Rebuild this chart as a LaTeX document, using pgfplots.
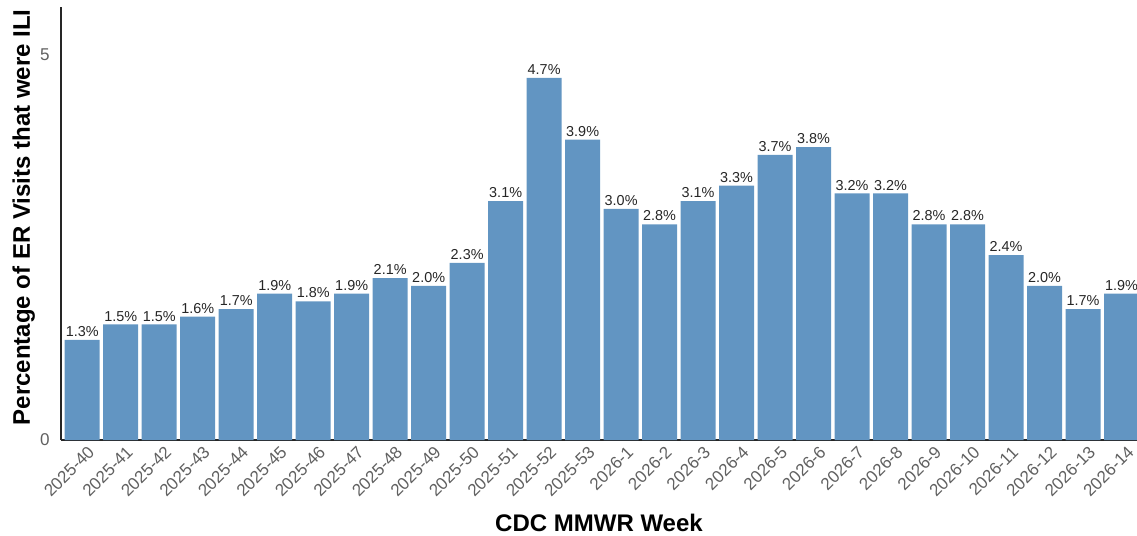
\documentclass[border=0pt]{standalone}
\usepackage{fontspec}
\setmainfont{Liberation Sans}
\usepackage{pgfplots}
\pgfplotsset{compat=1.18}
\definecolor{barblue}{HTML}{6295C2}
\definecolor{tickgray}{HTML}{606060}

\begin{document}
\begin{tikzpicture}
\begin{axis}[
    scale only axis,
    width=807pt, height=324.75pt,
    xmin=-0.55, xmax=27.4,
    ymin=0, ymax=5.62,
    axis x line*=bottom,
    axis y line*=left,
    axis line style={line width=0.9pt, black!85},
    major tick length=0pt,
    ytick={0,5},
    xtick=data,
    xticklabels={2025-40,2025-41,2025-42,2025-43,2025-44,2025-45,2025-46,2025-47,
        2025-48,2025-49,2025-50,2025-51,2025-52,2025-53,2026-1,2026-2,2026-3,
        2026-4,2026-5,2026-6,2026-7,2026-8,2026-9,2026-10,2026-11,2026-12,2026-13,2026-14},
    /pgf/number format/assume math mode=true,
    tick label style={font=\fontsize{12.8}{14}\selectfont, text=tickgray},
    yticklabel style={xshift=-5pt},
    xticklabel style={rotate=45, anchor=north east, inner sep=2pt, yshift=-3pt, xshift=2pt},
    xlabel={\bfseries CDC MMWR Week},
    ylabel={\bfseries Percentage of ER Visits that were ILI},
    label style={font=\fontsize{18}{20}\selectfont},
    ylabel style={at={(ticklabel cs:0.514)}},
    xlabel shift=5.5pt,
    ylabel shift=-3pt,
    ybar,
    bar width=0.91,
    nodes near coords={\pgfmathprintnumber[fixed,fixed zerofill,precision=1]{\pgfplotspointmeta}\%},
    nodes near coords style={font=\fontsize{10.8}{12}\selectfont, text=black!85, anchor=base, yshift=2.5pt, inner sep=0pt},
]
\addplot[fill=barblue, draw=none] coordinates {
    (0,1.3) (1,1.5) (2,1.5) (3,1.6) (4,1.7) (5,1.9) (6,1.8) (7,1.9)
    (8,2.1) (9,2.0) (10,2.3) (11,3.1) (12,4.7) (13,3.9) (14,3.0) (15,2.8)
    (16,3.1) (17,3.3) (18,3.7) (19,3.8) (20,3.2) (21,3.2) (22,2.8) (23,2.8)
    (24,2.4) (25,2.0) (26,1.7) (27,1.9)
};
\end{axis}
\pgfresetboundingbox
\path[use as bounding box] ([xshift=-45.75pt,yshift=-71.25pt]current axis.south west)
    rectangle ([yshift=5.25pt]current axis.north east);
\end{tikzpicture}
\end{document}
